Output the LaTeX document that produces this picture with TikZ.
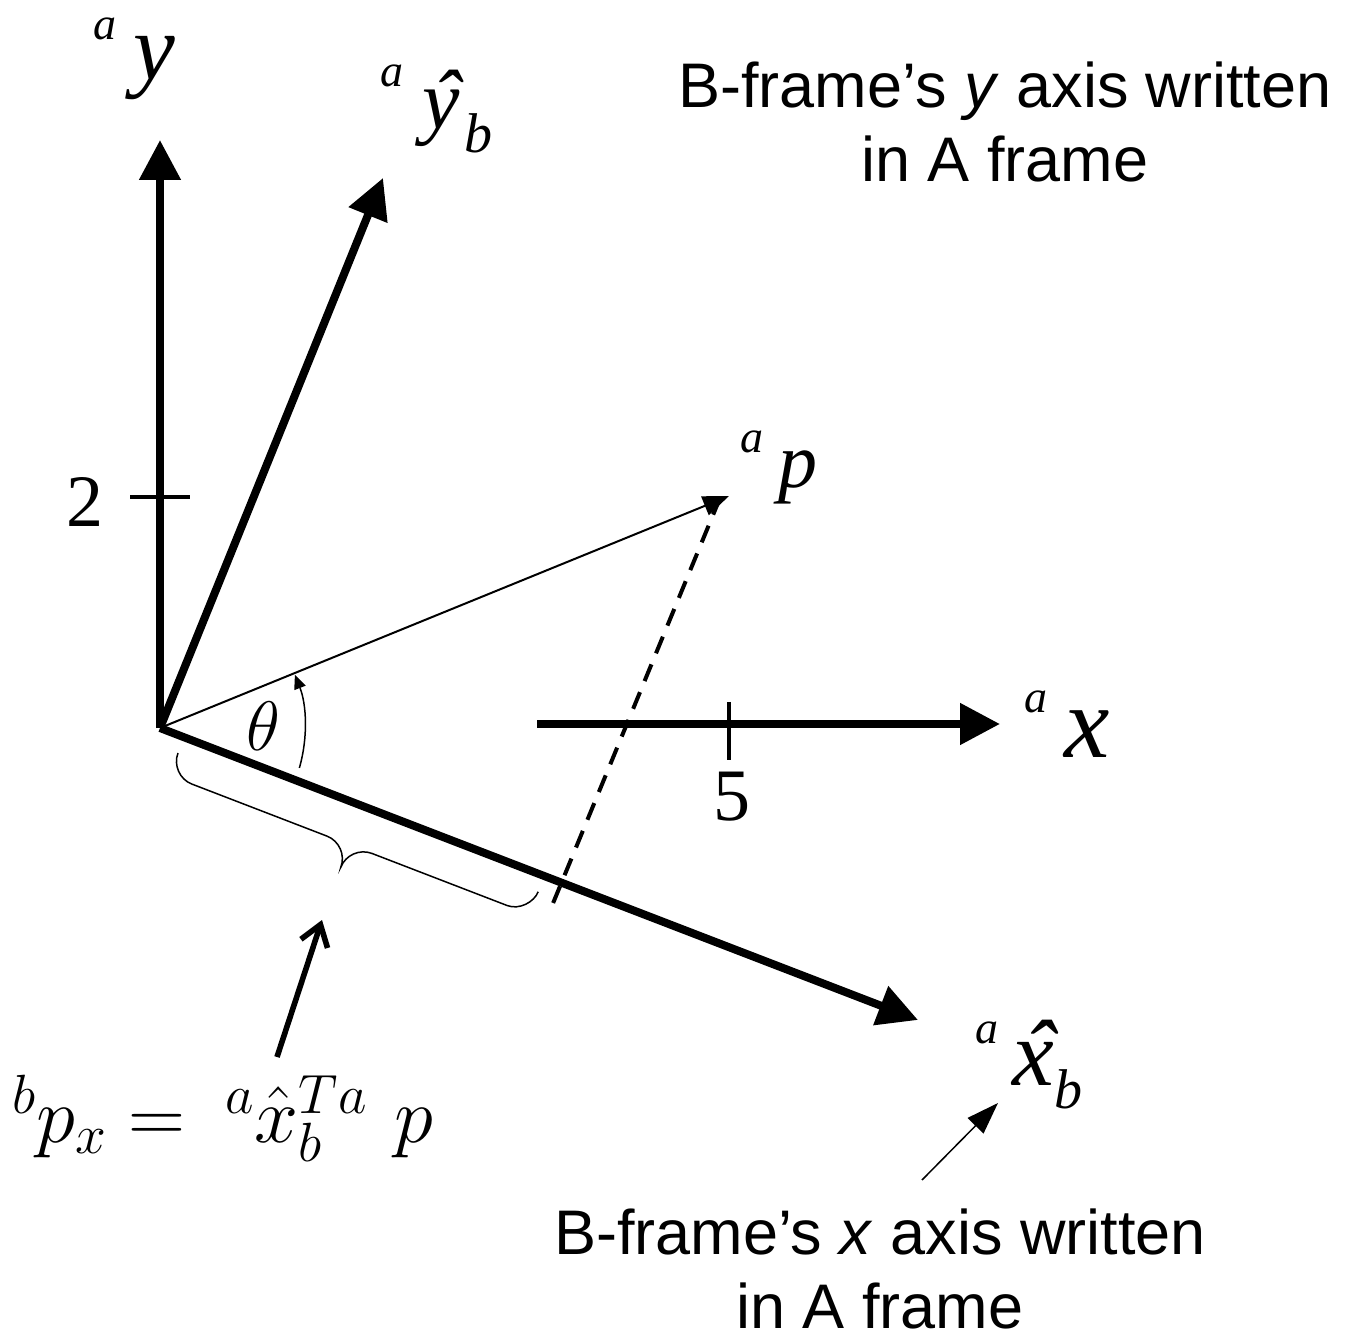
\RequirePackage{fix-cm}
\documentclass[tikz,border=0pt]{standalone}
\usepackage[no-math]{fontspec}
\setmainfont{Liberation Sans}
\newfontfamily\labfont{Liberation Serif}
\usetikzlibrary{arrows.meta}
\newcommand\hatover[1]{\ooalign{#1\cr\hidewidth\kern0.12em\char"02C6\hidewidth\cr}}
\begin{document}
\begin{tikzpicture}[x=0.5pt,y=-0.5pt,
  axisarrow/.style={line width=4pt,-{Triangle[length=20pt,width=20pt]}},
  tickline/.style={line width=2pt},
  lab/.style={inner sep=0pt,anchor=base,font=\labfont\itshape\fontsize{#1}{#1}\selectfont},
  digit/.style={inner sep=0pt,anchor=base,font=\labfont\fontsize{37}{37}\selectfont},
  caption/.style={inner sep=0pt,align=center,font=\fontsize{31.5}{37}\selectfont},
  brace/.style={line width=0.75pt},
]
\useasboundingbox (0,0) rectangle (1357,1337);

% coordinates
\coordinate (O) at (160,728);
\coordinate (Ytip) at (160,140);
\coordinate (YBtip) at (383,178);
\coordinate (XBtip) at (918,1020);
\coordinate (Xs) at (537,724);
\coordinate (Xtip) at (1000,724);
\coordinate (P) at (729,496);
\coordinate (Dtop) at (720,498);
\coordinate (Dbot) at (549,913);
\coordinate (T2a) at (130,497);
\coordinate (T2b) at (190,497);
\coordinate (T5a) at (729,702);
\coordinate (T5b) at (729,760);
\coordinate (Fs) at (277,1057);
\coordinate (Fe) at (322,920);
\coordinate (Ns) at (922,1180);
\coordinate (Ne) at (998,1103);

% axes
\draw[axisarrow] (O) -- (Ytip);
\draw[axisarrow] (O) -- (YBtip);
\draw[axisarrow] (O) -- (XBtip);
\draw[axisarrow] (Xs) -- (Xtip);

% ticks
\draw[tickline] (T2a) -- (T2b);
\draw[tickline] (T5a) -- (T5b);
\node[digit] (two) at (85,527) {2};
\node[digit] (five) at (732,820) {5};

% vector p and dashed projection
\draw[line width=2pt,dash pattern=on 9pt off 6pt] (Dtop) -- (Dbot);
\draw[line width=1pt,-{Triangle[length=13pt,width=10pt]}] (O) -- (P);

% angle
\draw[line width=0.75pt,-{Triangle[length=7pt,width=6pt]}]
  ([shift={(-16:72.5pt)}]O) arc[start angle=-16,end angle=21.5,radius=72.5pt];
\node[inner sep=0pt,font=\fontsize{35}{35}\selectfont] (theta) at (263,726) {$\theta$};

% brace
\begin{scope}[shift={(178,753)},rotate=-21.07]
\draw[brace] (0,0) .. controls (0,13) and (11,24) .. (24,24) -- (169,24)
  .. controls (182,24) and (193,35) .. (193,48)
  .. controls (193,35) and (204,24) .. (217,24) -- (362,24)
  .. controls (375,24) and (386,11) .. (386,0);
\end{scope}

% formula
\node[inner sep=0pt,anchor=base,font=\fontsize{39.5}{42}\selectfont] (formula) at (223,1142)
  {${}^{b}p_{x} = \mkern4mu{}^{a}\hat{x}_{b}^{T}{}^{a}\mkern6mu p$};
\draw[line width=2.8pt,-{Straight Barb[length=10pt,width=14pt]}] (Fs) -- (Fe);

% axis labels
\node[lab=23] (ay_a) at (105,40) {a};
\node[lab=47] (ay_y) at (154,80) {y};
\node[lab=23] (yb_a) at (392,87) {a};
\node[lab=42] (yb_y) at (441,129) {\hatover{y}};
\node[lab=28] (yb_b) at (478,153) {b};
\node[lab=23] (p_a) at (752,453) {a};
\node[lab=39] (p_p) at (798,488) {p};
\node[lab=23] (x_a) at (1036,712) {a};
\node[lab=51] (x_x) at (1087,757) {x};
\node[lab=23] (xb_a) at (987,1043) {a};
\node[lab=47] (xb_x) at (1033,1085) {\hatover{x}};
\node[lab=28] (xb_b) at (1068,1108) {b};

% captions
\node[caption] (capy) at (1005,122) {B-frame’s \textit{y} axis written\\in A frame};
\node[caption] (capx) at (880,1269) {B-frame’s \textit{x} axis written\\in A frame};
\draw[line width=0.75pt,-{Triangle[length=16pt,width=11pt]}] (Ns) -- (Ne);
\end{tikzpicture}
\end{document}
